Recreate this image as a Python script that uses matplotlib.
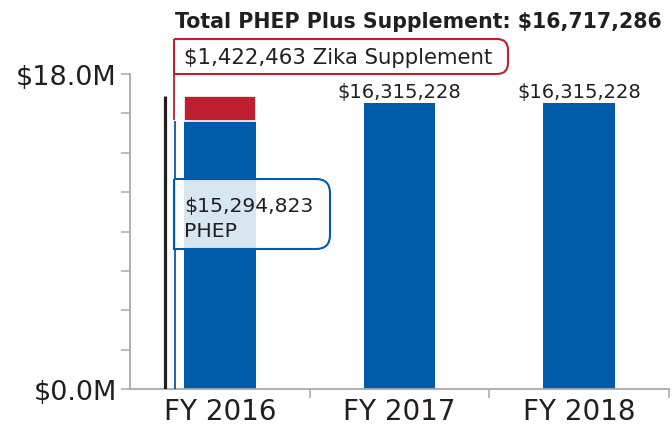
import numpy as np
import matplotlib.pyplot as plt
from matplotlib.path import Path
from matplotlib.patches import PathPatch

# chart values
years = ['FY 2016', 'FY 2017', 'FY 2018']
phep = [15294823, 16315228, 16315228]
zika = [1422463, 0, 0]
total_2016 = phep[0] + zika[0]

BLUE = '#005baa'
RED = '#c01f2f'
GRAY = '#a7a9ac'
TXT = '#231f20'

plt.rcParams['font.family'] = ['DejaVu Sans']

fig = plt.figure(figsize=(6.72, 4.27), dpi=100)
ax = fig.add_axes([130/672, 37/427, 539/672, 315/427])

x = np.arange(len(years))
vals_m = np.array(phep) / 1e6
ax.bar(x, vals_m, width=0.4, color=BLUE, zorder=2)
ax.bar(x[0], zika[0] / 1e6, bottom=vals_m[0], width=0.4, color=RED,
       edgecolor='white', linewidth=1.2, zorder=3)

# labels above the later bars
for i in (1, 2):
    ax.text(x[i], vals_m[i] + 0.15, f'${phep[i]:,}', ha='center', va='bottom',
            fontsize=14, color=TXT)

# bracket lines left of the first bar
ax.plot([-0.305, -0.305], [0, total_2016 / 1e6], color=TXT, lw=2.3,
        solid_capstyle='butt', zorder=4)
ax.plot([-0.25, -0.25], [0, vals_m[0]], color=BLUE, lw=1.3,
        solid_capstyle='butt', zorder=4)

ax.set_xlim(-0.5, 2.5)
ax.set_ylim(0, 18)
ax.set_yticks(np.linspace(0, 18, 9))
ax.set_yticklabels(['$0.0M'] + [''] * 7 + ['$18.0M'])
ax.set_xticks([0.5, 1.5, 2.5])
ax.set_xticklabels([])
ax.set_xticks(x, minor=True)
ax.set_xticklabels(years, minor=True)
ax.tick_params(axis='y', length=6.5, width=1.1, color=GRAY, labelsize=19.5,
               labelcolor=TXT, pad=3)
ax.tick_params(axis='x', which='major', length=6.5, width=1.1, color=GRAY)
ax.tick_params(axis='x', which='minor', length=0, labelsize=20,
               labelcolor=TXT, pad=6)
for s in ('top', 'right'):
    ax.spines[s].set_visible(False)
for s in ('left', 'bottom'):
    ax.spines[s].set_color(GRAY)
    ax.spines[s].set_linewidth(1.3)

# overlay in pixel units for callouts
ov = fig.add_axes([0, 0, 1, 1], zorder=5)
ov.set_xlim(0, 672)
ov.set_ylim(427, 0)
ov.axis('off')
ov.patch.set_alpha(0)


def callout(x0, y0, x1, y1, r, ec, fc, alpha):
    verts = [(x0, y0), (x1 - r, y0), (x1, y0), (x1, y0 + r),
             (x1, y1 - r), (x1, y1), (x1 - r, y1), (x0, y1), (x0, y0)]
    codes = [Path.MOVETO, Path.LINETO, Path.CURVE3, Path.CURVE3,
             Path.LINETO, Path.CURVE3, Path.CURVE3, Path.LINETO, Path.LINETO]
    ov.add_patch(PathPatch(Path(verts, codes), facecolor=fc, alpha=alpha,
                           edgecolor='none'))
    ov.add_patch(PathPatch(Path(verts, codes), facecolor='none',
                           edgecolor=ec, lw=1.5))


callout(174, 40, 508, 75, 11, RED, 'white', 1.0)
ov.plot([174, 174], [75, 120], color=RED, lw=1.3)
ov.text(184, 58, f'${zika[0]:,} Zika Supplement', fontsize=15.3,
        color=TXT, va='center', ha='left')

callout(174, 180, 330, 250, 14, BLUE, 'white', 0.85)
ov.text(184, 219, f'${phep[0]:,}\nPHEP', fontsize=14.7, color=TXT,
        va='center', ha='left', linespacing=1.35)

ov.text(175, 22, f'Total PHEP Plus Supplement: ${total_2016:,}',
        fontsize=14.8, color=TXT, va='center', ha='left', fontweight='bold')

fig.savefig('out.png', dpi=100)
